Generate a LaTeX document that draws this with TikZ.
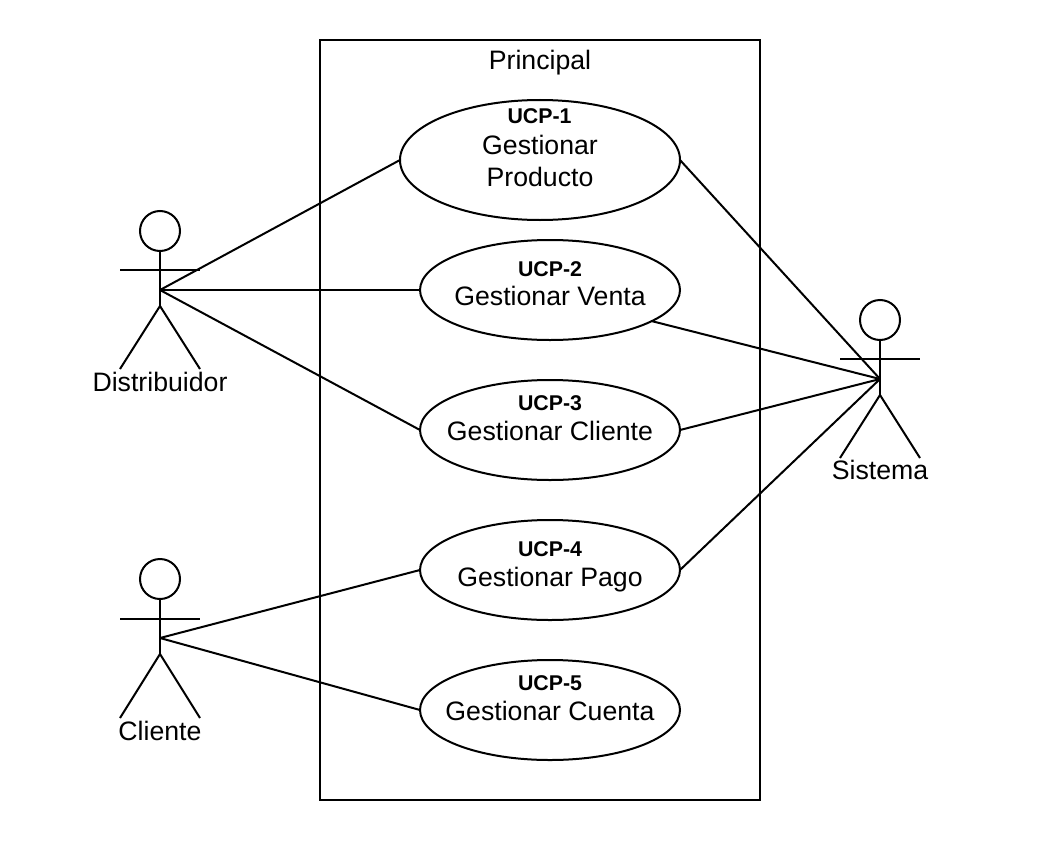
\documentclass[tikz,border=0pt]{standalone}
\usepackage{fontspec}
\setmainfont{Liberation Sans}
\usetikzlibrary{shapes.geometric}

\begin{document}
\begin{tikzpicture}[
        x = 1pt, y = -1pt,
        line width = 2pt, % line style
        frame/.style = {draw = black, fill = white, minimum width = 440pt, minimum height = 760pt, inner sep = 0pt, outer sep = 0pt},
        usecase/.style = {draw = black, fill = white, ellipse, minimum width = 260pt, minimum height = 100pt, inner sep = 0pt, outer sep = 0pt},
        head/.style = {draw = black, fill = white, circle, minimum size = 40pt, inner sep = 0pt, outer sep = 0pt},
        title/.style = {inner sep = 0pt, anchor = base, font = \fontsize{26.67pt}{32pt}\selectfont},
        code/.style = {inner sep = 0pt, anchor = base, font = \fontsize{21.33pt}{26pt}\selectfont\bfseries}
    ]

    \useasboundingbox (0, 0) rectangle (1040, 840);

    % system boundary
    \node[frame] (principal) at (540, 420) {};
    \node[title] (principal title) at (540, 70) {Principal};

    % use cases
    \node[usecase, minimum width = 280pt, minimum height = 120pt] (ucp1) at (540, 160) {};
    \node[usecase] (ucp2) at (550, 290) {};
    \node[usecase] (ucp3) at (550, 430) {};
    \node[usecase] (ucp4) at (550, 570) {};
    \node[usecase] (ucp5) at (550, 710) {};

    \node[code] (ucp1 code) at (539.5, 124) {UCP-1};
    \node[title] (ucp1 name a) at (540, 154) {Gestionar};
    \node[title] (ucp1 name b) at (540, 186) {Producto};
    \node[code] (ucp2 code) at (550, 276) {UCP-2};
    \node[title] (ucp2 name) at (550, 305.5) {Gestionar Venta};
    \node[code] (ucp3 code) at (550, 410) {UCP-3};
    \node[title] (ucp3 name) at (550, 440) {Gestionar Cliente};
    \node[code] (ucp4 code) at (550, 556) {UCP-4};
    \node[title] (ucp4 name) at (550, 586) {Gestionar Pago};
    \node[code] (ucp5 code) at (550, 690) {UCP-5};
    \node[title] (ucp5 name) at (550, 720) {Gestionar Cuenta};

    % actors
    \node[head] (dist head) at (160, 231) {};
    \coordinate (dist) at (160, 290);
    \coordinate (dist hip) at (160, 306);
    \coordinate (dist arm l) at (120, 270);
    \coordinate (dist arm r) at (200, 270);
    \coordinate (dist leg l) at (120, 369);
    \coordinate (dist leg r) at (200, 369);
    \draw (dist head) -- (dist hip);
    \draw (dist arm l) -- (dist arm r);
    \draw (dist leg l) -- (dist hip) -- (dist leg r);
    \node[title] (dist label) at (160, 391) {Distribuidor};

    \node[head] (clie head) at (160, 579) {};
    \coordinate (clie) at (160, 638);
    \coordinate (clie hip) at (160, 654);
    \coordinate (clie arm l) at (120, 619);
    \coordinate (clie arm r) at (200, 619);
    \coordinate (clie leg l) at (120, 718);
    \coordinate (clie leg r) at (200, 718);
    \draw (clie head) -- (clie hip);
    \draw (clie arm l) -- (clie arm r);
    \draw (clie leg l) -- (clie hip) -- (clie leg r);
    \node[title] (clie label) at (160, 740) {Cliente};

    \node[head] (sist head) at (880, 320) {};
    \coordinate (sist) at (880, 379);
    \coordinate (sist hip) at (880, 395);
    \coordinate (sist arm l) at (840, 359);
    \coordinate (sist arm r) at (920, 359);
    \coordinate (sist leg l) at (840, 458);
    \coordinate (sist leg r) at (920, 458);
    \draw (sist head) -- (sist hip);
    \draw (sist arm l) -- (sist arm r);
    \draw (sist leg l) -- (sist hip) -- (sist leg r);
    \node[title] (sist label) at (880, 479) {Sistema};

    % associations
    \draw (dist) -- (ucp1.west);
    \draw (dist) -- (ucp2.west);
    \draw (dist) -- (ucp3.west);
    \draw (clie) -- (ucp4.west);
    \draw (clie) -- (ucp5.west);
    \draw (ucp1.east) -- (sist);
    \draw (ucp2.-17) -- (sist);
    \draw (ucp3.east) -- (sist);
    \draw (ucp4.east) -- (sist);
\end{tikzpicture}
\end{document}
